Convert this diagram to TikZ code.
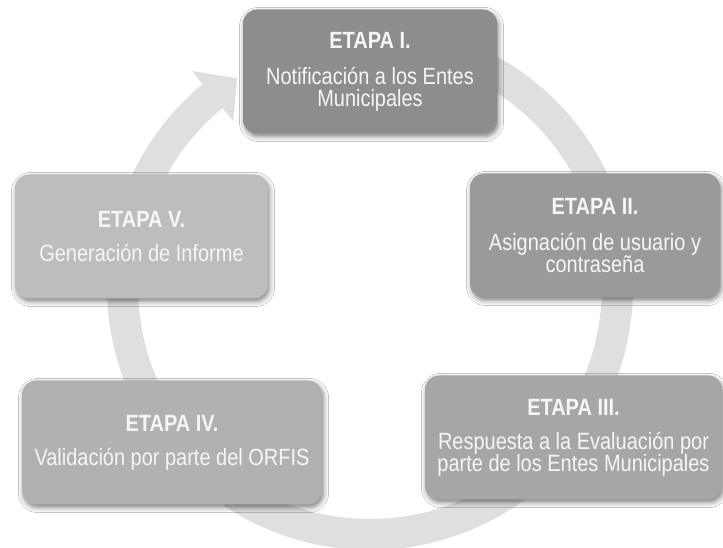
\documentclass[tikz,border=0pt]{standalone}
\usepackage{fontspec}
\setmainfont{Liberation Sans}[FakeStretch=0.85]
\usetikzlibrary{shadows.blur}
\definecolor{ringc}{RGB}{223,223,223}
\definecolor{cI}{RGB}{141,141,141}
\definecolor{cII}{RGB}{154,154,154}
\definecolor{cIII}{RGB}{166,166,166}
\definecolor{cIV}{RGB}{177,177,177}
\definecolor{cV}{RGB}{189,189,189}
\definecolor{txt}{RGB}{246,246,246}
\begin{document}
\begin{tikzpicture}[x=1pt,y=1pt,
  stagebox/.style={rounded corners=14pt, minimum height=124pt, align=center,
    text=txt, inner sep=2pt, font=\fontsize{23.5}{22}\selectfont,
    blur shadow={shadow xshift=1.5pt, shadow yshift=-3pt, shadow blur radius=5pt, shadow opacity=50}}]
\useasboundingbox (0,0) rectangle (723,548);
\fill[white] (0,0) rectangle (723,548);
% cycle ring with arrowhead
\fill[ringc, shift={(370,261)}] (70:263pt)
  arc[start angle=70, end angle=-230.5, radius=263pt]
  -- (129.5:280pt) -- (122.5:247.5pt) -- (129.5:215pt) -- (129.5:232pt)
  arc[start angle=-230.5, end angle=70, radius=232pt] -- cycle;
% stages
\node[stagebox, fill=cI, minimum width=254pt] (e1) at (370,476.5)
  {\textbf{ETAPA I.}\\[14pt]Notificación a los Entes\\Municipales};
\node[stagebox, fill=cII, minimum width=250pt] (e2) at (595,312.5)
  {\textbf{ETAPA II.}\\[14pt]Asignación de usuario y\\contraseña};
\node[stagebox, fill=cIII, minimum width=297pt] (e3) at (573.5,110.5)
  {\textbf{ETAPA III.}\\[12pt]Respuesta a la Evaluación por\\parte de los Entes Municipales};
\node[stagebox, fill=cIV, minimum width=300pt] (e4) at (172,105.5)
  {\textbf{ETAPA IV.}\\[12pt]Validación por parte del ORFIS};
\node[stagebox, fill=cV, minimum width=253pt] (e5) at (141.5,311.5)
  {\textbf{ETAPA V.}\\[12pt]Generación de Informe};
\end{tikzpicture}
\end{document}
